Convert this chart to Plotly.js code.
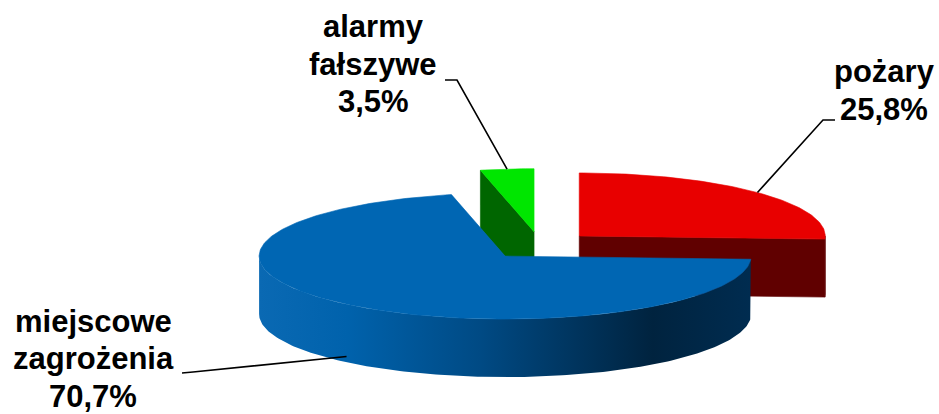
<!DOCTYPE html>
<html><head><meta charset="utf-8">
<script src="https://cdn.plot.ly/plotly-3.0.1.min.js"></script>
<style>html,body{margin:0;padding:0;background:#fff;overflow:hidden}#chart{width:939px;height:414px}</style>
</head><body><div id="chart"></div>
<script>
// ---- data ----
const categories = ['pożary', 'miejscowe zagrożenia', 'alarmy fałszywe'];
const labelLines = [['pożary'], ['miejscowe', 'zagrożenia'], ['alarmy', 'fałszywe']];
const values = [25.8, 70.7, 3.5];
const valueLabels = ['25,8%', '70,7%', '3,5%'];

// ---- style / layout ----
const topColors = ['#E80000', '#0066B3', '#00E600'];
const sideColors = ['#600000', '#004C86', '#006600'];
const blueSideScale = [[0,'#0A69B3'],[0.18,'#0062AC'],[0.45,'#004A84'],[0.8,'#00233F'],[1,'#002C50']];
const W = 939, H = 414;
const CX = 540, CY = 245.5, RA = 246, RB = 63, DEPTH = 58, EXPLODE = 0.22;
const FONT_SIZE = 31, LINE_GAP = 37.5;
// label: centre x, centre y of the first line, leader start and elbow
const labelPos = [
  {x: 884, y: 71.5,  lx: [835, 823], ly: [120, 120]},
  {x: 93,  y: 321,   lx: [182, 193], ly: [373, 372]},
  {x: 373, y: 26.5,  lx: [445, 457], ly: [80, 80]}
];

const rad = d => d * Math.PI / 180;
function rimPt(c, th, dy) { return [c[0] + RA * Math.cos(rad(th)), c[1] - RB * Math.sin(rad(th)) + (dy || 0)]; }
function arcPts(c, from, to, dy) {
  const n = Math.max(2, Math.ceil(Math.abs(to - from) / 1));
  const xs = [], ys = [];
  for (let i = 0; i <= n; i++) { const p = rimPt(c, from + (to - from) * i / n, dy); xs.push(p[0]); ys.push(p[1]); }
  return [xs, ys];
}
function poly(xs, ys, color, extra) {
  return Object.assign({type: 'scatter', mode: 'lines', x: xs, y: ys, fill: 'toself', fillcolor: color,
    line: {width: 0.6, color: color}, hoverinfo: 'skip', showlegend: false}, extra || {});
}

const total = values.reduce((a, b) => a + b, 0);
let cum = 0;
const slices = values.map((v, i) => {
  const hi = 90 - 360 * cum / total;
  cum += v;
  const lo = 90 - 360 * cum / total;
  const mid = (hi + lo) / 2;
  const c = [CX + EXPLODE * RA * Math.cos(rad(mid)), CY - EXPLODE * RB * Math.sin(rad(mid))];
  return {i, lo, hi, mid, c};
});

const traces = [];
const order = slices.slice().sort((a, b) => Math.sin(rad(b.mid)) - Math.sin(rad(a.mid)));
order.forEach(s => {
  const c = s.c;
  // radial (cut) faces that face the viewer
  [[s.lo, Math.cos(rad(s.lo)) > 1e-6], [s.hi, Math.cos(rad(s.hi)) < -1e-6]].forEach(([th, vis]) => {
    if (!vis) return;
    const p = rimPt(c, th);
    traces.push(poly([c[0], p[0], p[0], c[0], c[0]], [c[1], p[1], p[1] + DEPTH, c[1] + DEPTH, c[1]], sideColors[s.i]));
  });
  // outer side (front half only)
  for (let k = -1; k <= 0; k++) {
    const a = Math.max(s.lo, -180 + 360 * k), b = Math.min(s.hi, 360 * k);
    if (b - a <= 0.01) continue;
    const [tx, ty] = arcPts(c, a, b, 0);
    const [bx, by] = arcPts(c, b, a, DEPTH);
    const xs = tx.concat(bx), ys = ty.concat(by);
    xs.push(tx[0]); ys.push(ty[0]);
    const extra = s.i === 1 ? {fillgradient: {type: 'horizontal', start: Math.min(...xs), stop: Math.max(...xs), colorscale: blueSideScale}, line: {width: 0}} : {};
    traces.push(poly(xs, ys, sideColors[s.i], extra));
  }
  // top face
  const [ax, ay] = arcPts(c, s.hi, s.lo, 0);
  traces.push(poly([c[0]].concat(ax, [c[0]]), [c[1]].concat(ay, [c[1]]), topColors[s.i]));
});

// leader lines and labels
const annotations = [];
slices.forEach(s => {
  const lp = labelPos[s.i];
  const front = Math.sin(rad(s.mid)) < 0;
  const end = rimPt(s.c, s.mid, front ? DEPTH * 0.9 : 0);
  traces.push({type: 'scatter', mode: 'lines', x: lp.lx.concat([end[0]]), y: lp.ly.concat([end[1]]),
    line: {color: '#000', width: 1.6}, hoverinfo: 'skip', showlegend: false});
  labelLines[s.i].concat([valueLabels[s.i]]).forEach((t, j) => {
    annotations.push({x: lp.x, y: lp.y + j * LINE_GAP, xref: 'x', yref: 'y', showarrow: false, align: 'center',
      xanchor: 'center', yanchor: 'middle', text: t,
      font: {family: 'Liberation Sans, Arial, sans-serif', size: FONT_SIZE, color: '#000', weight: 'bold'}});
  });
});

const layout = {
  width: W, height: H, margin: {l: 0, r: 0, t: 0, b: 0},
  paper_bgcolor: '#fff', plot_bgcolor: '#fff', showlegend: false,
  xaxis: {range: [0, W], visible: false, fixedrange: true},
  yaxis: {range: [H, 0], visible: false, fixedrange: true},
  annotations
};
Plotly.newPlot('chart', traces, layout, {displayModeBar: false, staticPlot: true});
</script></body></html>
